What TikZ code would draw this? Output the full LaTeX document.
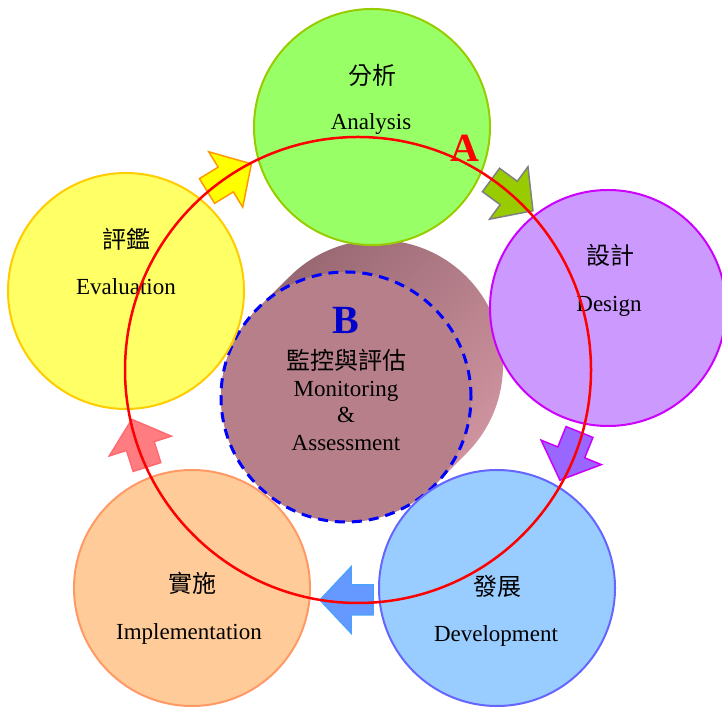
\documentclass[tikz,border=0pt]{standalone}
\usepackage{fontspec}
\setmainfont{Liberation Serif}
\newfontfamily\cjk{Noto Sans CJK TC}
\definecolor{gFill}{HTML}{99FF66}\definecolor{gLine}{HTML}{99CC00}
\definecolor{pFill}{HTML}{CC99FF}\definecolor{pLine}{HTML}{CC00FF}
\definecolor{bFill}{HTML}{99CCFF}\definecolor{bLine}{HTML}{6666FF}
\definecolor{oFill}{HTML}{FFCC99}\definecolor{oLine}{HTML}{FF9966}
\definecolor{yFill}{HTML}{FFFF66}\definecolor{yLine}{HTML}{FFCC00}
\definecolor{cylDark}{HTML}{93646E}\definecolor{cylLight}{HTML}{D498A4}
\definecolor{cylFront}{HTML}{B67F89}
\definecolor{aYFill}{HTML}{FFFF00}\definecolor{aYLine}{HTML}{FF9900}
\definecolor{aGFill}{HTML}{99CC00}\definecolor{aGLine}{HTML}{808080}
\definecolor{aPFill}{HTML}{9966FF}\definecolor{aPLine}{HTML}{CC00FF}
\definecolor{aBFill}{HTML}{6699FF}\definecolor{aBLine}{HTML}{4DA0FF}
\definecolor{aRFill}{HTML}{FF7C80}\definecolor{aRLine}{HTML}{FF6A72}
\begin{document}
\begin{tikzpicture}[x=1pt,y=1pt,
  stage/.style={circle,line width=2pt,minimum size=236pt,inner sep=0pt},
  zh/.style={font=\cjk\fontsize{24}{24}\selectfont,anchor=base,inner sep=0pt},
  en/.style={font=\fontsize{23}{23}\selectfont,anchor=base,inner sep=0pt},
  blockarrow/.style={line width=1.5pt,line join=miter}]
\useasboundingbox (0,0) rectangle (722,706);
% central cylinder
\path[top color=cylDark,bottom color=cylLight,shading angle=45]
  (434.4,220.6) -- (466.4,252.6) arc[start angle=-45,end angle=135,radius=125]
  -- (257.6,397.4) arc[start angle=135,end angle=315,radius=125] -- cycle;
\node[circle,fill=cylFront,minimum size=250pt,inner sep=0pt] (core) at (346,309) {};
\draw[blue,line width=3pt,dash pattern=on 10pt off 7pt] (core.center) circle[radius=125];
% stage circles
\node[stage,draw=gLine,fill=gFill] (ana) at (372,579) {};
\node[stage,draw=pLine,fill=pFill] (des) at (608,398) {};
\node[stage,draw=bLine,fill=bFill] (dev) at (497,118) {};
\node[stage,draw=oLine,fill=oFill] (imp) at (192,118) {};
\node[stage,draw=yLine,fill=yFill] (eva) at (126,415) {};
% block arrows
\begin{scope}[shift={(207,515)},rotate=31.5]
\draw[blockarrow,draw=aYLine,fill=aYFill] (0,14.5)--(22,14.5)--(22,32.5)--(52,0)--(22,-32.5)--(22,-14.5)--(0,-14.5)--cycle;
\end{scope}
\begin{scope}[shift={(491,526)},rotate=-36.2]
\draw[blockarrow,draw=aGLine,fill=aGFill] (0,14.5)--(22,14.5)--(22,32.5)--(52,0)--(22,-32.5)--(22,-14.5)--(0,-14.5)--cycle;
\end{scope}
\begin{scope}[shift={(579.5,274)},rotate=-112.1]
\draw[blockarrow,draw=aPLine,fill=aPFill] (0,14.5)--(22,14.5)--(22,32.5)--(52,0)--(22,-32.5)--(22,-14.5)--(0,-14.5)--cycle;
\end{scope}
\begin{scope}[shift={(373,106)},rotate=180]
\draw[blockarrow,draw=aBLine,fill=aBFill] (0,15)--(22,15)--(22,33)--(53,0)--(22,-33)--(22,-15)--(0,-15)--cycle;
\end{scope}
\begin{scope}[shift={(147,239)},rotate=107.7]
\draw[blockarrow,draw=aRLine,fill=aRFill] (0,14.5)--(22,14.5)--(22,32.5)--(50,0)--(22,-32.5)--(22,-14.5)--(0,-14.5)--cycle;
\end{scope}
% texts
\node[zh] (anaZ) at (372,621) {分析};
\node[en] (anaE) at (371,576) {Analysis};
\node[zh] (desZ) at (610,441) {設計};
\node[en] (desE) at (609,394) {Design};
\node[zh] (devZ) at (497,110) {發展};
\node[en] (devE) at (496,64) {Development};
\node[zh] (impZ) at (192,113) {實施};
\node[en] (impE) at (189,66) {Implementation};
\node[zh] (evaZ) at (126,457) {評鑑};
\node[en] (evaE) at (126,411) {Evaluation};
\node[anchor=base,inner sep=0pt,text=blue!80!black,font=\bfseries\fontsize{40}{40}\selectfont] (labB) at (346,372) {B};
\node[zh] (monZ) at (346,336) {監控與評估};
\node[en] (monE) at (346,309) {Monitoring};
\node[en] (amp) at (346,283) {\&};
\node[en] (ass) at (346,255) {Assessment};
% red cycle
\draw[red,line width=2.5pt] (358,336) circle[radius=233];
\node[anchor=base,inner sep=0pt,text=red,font=\bfseries\fontsize{40}{40}\selectfont] (labA) at (465,544) {A};
\end{tikzpicture}
\end{document}
